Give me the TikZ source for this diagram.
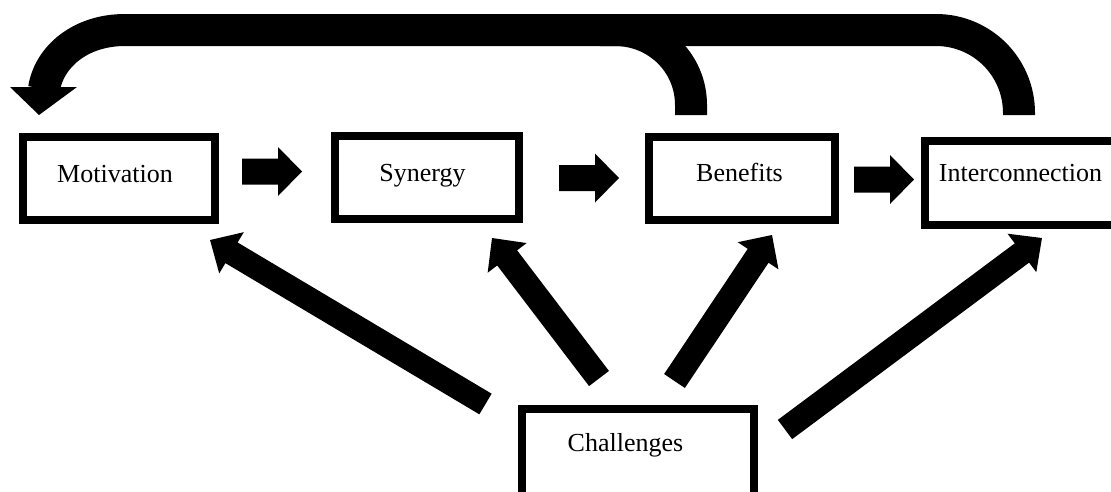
\documentclass[tikz,border=0pt]{standalone}
\usepackage{fontspec}
\setmainfont{Liberation Serif}
\usetikzlibrary{calc}
% filled block arrow from #1 to #2: shaft width #3, head width #4, head length #5
\newcommand\BlkArrow[5]{%
  \fill let \p1=(#1), \p2=(#2), \n1={atan2(\y2-\y1,\x2-\x1)}, \n2={veclen(\x2-\x1,\y2-\y1)} in
    [shift={(\p1)}, rotate=\n1, x=1pt, y=1pt]
    (0,-#3/2) -- ({\n2-#5},-#3/2) -- ({\n2-#5},-#4/2) -- (\n2,0) --
    ({\n2-#5},#4/2) -- ({\n2-#5},#3/2) -- (0,#3/2) -- cycle;
}
\begin{document}
\begin{tikzpicture}[x=1pt,y=-1pt,
  box/.style={draw=black, line width=8pt, inner sep=0pt},
  lbl/.style={anchor=base, inner sep=0pt, font=\fontsize{26}{30}\selectfont},
  band/.style={draw=black, line width=32pt, line cap=butt, line join=round}]
\clip (0,0) rectangle (1111,491);
\fill[white] (0,0) rectangle (1111,491);

% boxes
\node[box, minimum width=192pt, minimum height=83pt] (mot) at (119,178.5) {};
\node[box, minimum width=184pt, minimum height=83pt] (syn) at (427,177.5) {};
\node[box, minimum width=186pt, minimum height=83pt] (ben) at (742,178.5) {};
\node[box, minimum width=210pt, minimum height=84pt] (int) at (1030,183) {};
\node[box, minimum width=232pt, minimum height=95pt] (cha) at (638,456.5) {};

% labels
\node[lbl] (motT) at ($(mot.center)+(-4,3.5)$) {Motivation};
\node[lbl] (synT) at ($(syn.center)+(-4.5,3.5)$) {Synergy};
\node[lbl] (benT) at ($(ben.center)+(-2.5,3)$) {Benefits};
\node[lbl] (intT) at ($(int.center)+(-9.5,-1.3)$) {Interconnection};
\node[lbl] (chaT) at ($(cha.center)+(-12.5,-5.5)$) {Challenges};

% horizontal arrows
\coordinate (a1s) at ($(mot.center)+(123,-7)$);
\coordinate (a1e) at ($(syn.center)+(-125,-6)$);
\coordinate (a2s) at ($(syn.center)+(132,0.5)$);
\coordinate (a2e) at ($(ben.center)+(-123,-0.5)$);
\coordinate (a3s) at ($(ben.center)+(112,1)$);
\coordinate (a3e) at ($(int.center)+(-116,-3.5)$);
\BlkArrow{a1s}{a1e}{26}{49}{24}
\BlkArrow{a2s}{a2e}{26}{49}{24}
\BlkArrow{a3s}{a3e}{26}{49}{24}

% diagonal arrows from Challenges
\coordinate (d1s) at ($(cha.center)+(-152.5,-52.5)$);
\coordinate (d1e) at ($(mot.center)+(91,61.5)$);
\coordinate (d2s) at ($(cha.center)+(-39,-78)$);
\coordinate (d2e) at ($(syn.center)+(65,60.5)$);
\coordinate (d3s) at ($(cha.center)+(36.5,-75.5)$);
\coordinate (d3e) at ($(ben.center)+(30,56.5)$);
\coordinate (d4s) at ($(cha.center)+(147,-27)$);
\coordinate (d4e) at ($(int.center)+(12,55)$);
\BlkArrow{d1s}{d1e}{24}{48}{25}
\BlkArrow{d2s}{d2e}{25}{49}{25}
\BlkArrow{d3s}{d3e}{25}{49}{25}
\BlkArrow{d4s}{d4e}{24}{48}{25}

% big curved feedback arrow
\coordinate (ib) at ($(int.north)+(-11,-22)$);
\coordinate (bb) at ($(ben.north)+(-51,-18)$);
\coordinate (mt) at ($(mot.north)+(-80,-18)$);
\draw[band] (ib) -- (1019,113) .. controls (1019,67) and (982,30) .. (936,30)
  -- (125,30) .. controls (80,30) and (49,57) .. ($(mt)+(5,-26)$);
\draw[band] (bb) -- (691,105) .. controls (691,63) and (657,30) .. (615,30) -- (600,30);
\fill (mt) -- ($(mt)+(-29,-28)$) -- ($(mt)+(38,-28)$) -- cycle;
\end{tikzpicture}
\end{document}
